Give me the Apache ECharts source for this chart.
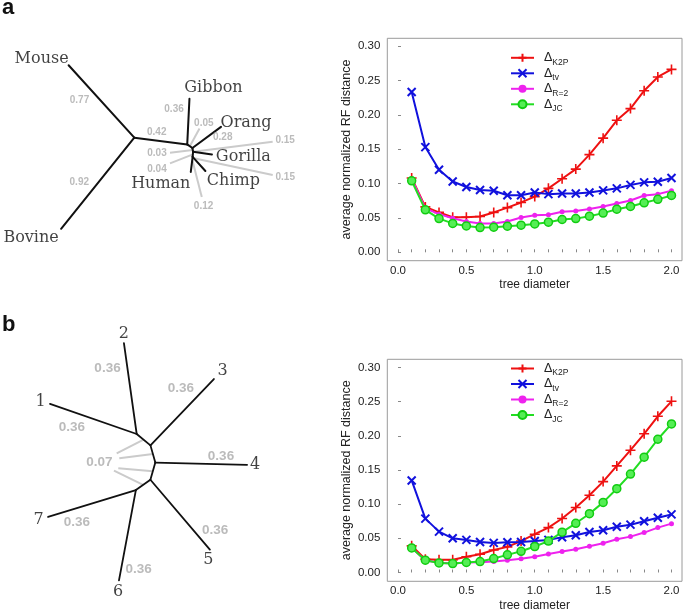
<!DOCTYPE html>
<html><head><meta charset="utf-8">
<script src="https://cdn.jsdelivr.net/npm/echarts@6/dist/echarts.min.js"></script>
<style>html,body{margin:0;padding:0;background:#fff}#c{width:685px;height:611px}</style>
</head><body><div id="c"></div>
<script>
// ================= DATA =================
const diameters = [0.1,0.2,0.3,0.4,0.5,0.6,0.7,0.8,0.9,1.0,1.1,1.2,1.3,1.4,1.5,1.6,1.7,1.8,1.9,2.0];
const xTickLabels = [0, 0.5, 1.0, 1.5, 2.0];
const xTickMarks = [0,0.1,0.2,0.3,0.4,0.5,0.6,0.7,0.8,0.9,1.0,1.1,1.2,1.3,1.4,1.5,1.6,1.7,1.8,1.9,2.0];
const yTickLabels = [0, 0.05, 0.10, 0.15, 0.20, 0.25, 0.30];
const methodSubs = ['K2P', 'tv', 'R=2', 'JC'];

// panel a
const a_K2P = [0.108,0.066,0.058,0.051,0.051,0.052,0.058,0.065,0.0725,0.081,0.093,0.107,0.121,0.142,0.166,0.192,0.209,0.235,0.255,0.266];
const a_tv  = [0.233,0.153,0.120,0.103,0.095,0.0905,0.0895,0.083,0.083,0.087,0.0846,0.0856,0.0856,0.087,0.090,0.093,0.098,0.1017,0.1026,0.108];
const a_R2  = [0.107,0.064,0.0555,0.0496,0.0447,0.042,0.042,0.0447,0.0506,0.054,0.0545,0.0589,0.060,0.063,0.0667,0.071,0.0754,0.0827,0.0846,0.0895];
const a_JC  = [0.104,0.0618,0.049,0.042,0.0384,0.036,0.0365,0.038,0.0394,0.0413,0.0438,0.0477,0.049,0.0525,0.057,0.0627,0.0667,0.072,0.077,0.0827];
// panel b
const b_K2P = [0.039,0.0195,0.0185,0.0185,0.023,0.0267,0.033,0.0375,0.046,0.056,0.0657,0.079,0.095,0.113,0.133,0.156,0.179,0.203,0.2286,0.2505];
const b_tv  = [0.1347,0.0788,0.0598,0.050,0.0477,0.0447,0.0433,0.0443,0.0447,0.046,0.0477,0.0516,0.0545,0.0593,0.0618,0.067,0.070,0.075,0.080,0.085];
const b_R2  = [0.036,0.0175,0.0141,0.0131,0.0146,0.015,0.016,0.018,0.020,0.023,0.0272,0.0306,0.034,0.0384,0.0428,0.0486,0.0525,0.0584,0.0657,0.0715];
const b_JC  = [0.036,0.018,0.014,0.013,0.0146,0.016,0.0204,0.0258,0.031,0.038,0.046,0.059,0.072,0.086,0.1026,0.1226,0.144,0.1688,0.195,0.2174];

// tree a: [parent, child, branch length]
const treeA_edges = [
  ['A','Mouse',0.77],['A','Bovine',0.92],['A','B',0.42],['B','Gibbon',0.36],
  ['B','C',0.05],['C','Orang',0.28],['C','D',0.03],['D','Gorilla',0.15],
  ['D','E',0.04],['E','Chimp',0.15],['E','Human',0.12]
];
const treeA_tips = ['Mouse','Bovine','Gibbon','Orang','Gorilla','Chimp','Human'];
// tree b
const treeB_edges = [
  ['N1','N2',0.07],['N2','N3',0.07],['N3','N4',0.07],['N4','N5',0.07],
  ['N1','1',0.36],['N1','2',0.36],['N2','3',0.36],['N3','4',0.36],
  ['N4','5',0.36],['N5','6',0.36],['N5','7',0.36]
];
const treeB_tips = ['1','2','3','4','5','6','7'];

// ================= LAYOUT (drawing only) =================
const layoutA = {
  root: 'A', scale: 127, originPx: [134.3, 137.7], box: [0, 0, 330, 300],
  angles: [132.2, 231.2, -7.2, 87.2, -35, 36.5, -80, -8, -95, -48, -97],
  tipOffsets: {Mouse:[-27,-6], Bovine:[-30,9.5], Gibbon:[24,-10.5], Orang:[25,-4.5], Gorilla:[31.4,2.3], Chimp:[28,10], Human:[-30,12]},
  // [edge, t, dx, dy, leaders:[[edge,t,lx,ly]]]
  lengthLabels: [
    [0,0.5,-22,-1,[]],[1,0.5,-18.4,-0.5,[]],[2,0.5,-4,-9,[]],[3,0.5,-14.3,-12,[]],
    [4,0.5,14,-22.9,[[4,0.5,-4.3,5.2]]],[5,0.5,16,0,[]],
    [6,0.5,-35.75,3.8,[[6,0.5,13,-1]]],[7,0,92.1,-11.3,[[7,0,-12.5,1.2]]],
    [8,0.5,-35.85,15.2,[[8,0.5,13,-6.2]]],[9,0.1,91.3,19,[[9,0.1,-12.5,-2.2]]],
    [10,0.2,11.3,46,[[10,0.2,-1.8,-8.8]]]
  ],
  lenFont: 10, tipFont: 16, lineW: 2
};
const layoutB = {
  root: 'N1', scale: 255, originPx: [136.7, 434], box: [0, 290, 330, 321],
  angles: [-39.6, -74.2, -106, -144.5, 160.8, 98, 46.3, -1.4, -49.6, -100.6, 197],
  tipOffsets: {'1':[-9.3,-2.2], '2':[-0.2,-9.3], '3':[8.6,-8.2], '4':[7.9,0.4], '5':[-1.6,10.3], '6':[-1,11.8], '7':[-9.6,3]},
  lengthLabels: [
    [5,0.5,-22.8,-20.6,[]],[6,0.5,-1.4,-23.5,[]],[4,0.5,-21.4,8.7,[]],[7,0.5,19.8,-7,[]],
    [8,0.5,35,15.2,[]],[10,0.5,-15.2,18.7,[]],[9,0.5,11.2,34,[]],
    [0,0.5,-44.3,23,[[0,0.5,17.4,-9.4],[1,0.5,20,-4.4],[2,0.5,19,5.6],[3,0.5,14.7,8]]]
  ],
  lenFont: 13.5, tipFont: 16, lineW: 1.8
};

function buildTree(edges, tips, L, idx) {
  const pos = {}; pos[L.root] = [0, 0];
  const segs = [];
  edges.forEach((e, i) => {
    const a = L.angles[i] * Math.PI / 180;
    const p = pos[e[0]];
    const q = [p[0] + e[2] * Math.cos(a), p[1] + e[2] * Math.sin(a)];
    pos[e[1]] = q;
    segs.push([p, q]);
  });
  const s = L.scale;
  const pt = (ei, t) => { const g = segs[ei]; return [g[0][0] + (g[1][0]-g[0][0])*t, g[0][1] + (g[1][1]-g[0][1])*t]; };
  const off = (p, d) => [p[0] + d[0]/s, p[1] - d[1]/s];
  const tipLabels = tips.map(n => ({value: off(pos[n], L.tipOffsets[n]), name: n}));
  const lenLabels = [], leaders = [];
  L.lengthLabels.forEach(l => {
    const c = off(pt(l[0], l[1]), [l[2], l[3]]);
    lenLabels.push({value: c, name: edges[l[0]][2].toFixed(2)});
    l[4].forEach(ld => leaders.push({coords: [pt(ld[0], ld[1]), off(c, [ld[2], ld[3]])]}));
  });
  const [bx, by, bw, bh] = L.box, [ox, oy] = L.originPx;
  const grid = {left: bx, top: by, width: bw, height: bh, show: false, outerBoundsMode: 'none'};
  const xAxis = {type:'value', gridIndex: idx, show:false, min: (bx - ox)/s, max: (bx + bw - ox)/s};
  const yAxis = {type:'value', gridIndex: idx, show:false, min: (oy - by - bh)/s, max: (oy - by)/s};
  const series = [
    {type:'lines', coordinateSystem:'cartesian2d', xAxisIndex: idx, yAxisIndex: idx, silent:true, z: 1,
     lineStyle:{color:'#cbcbcb', width:2, opacity:1}, data: leaders},
    {type:'lines', coordinateSystem:'cartesian2d', xAxisIndex: idx, yAxisIndex: idx, silent:true, z: 2,
     lineStyle:{color:'#111', width:L.lineW, opacity:1, cap:'round'}, data: segs.map(g => ({coords: g}))},
    {type:'scatter', xAxisIndex: idx, yAxisIndex: idx, symbolSize: 1, itemStyle:{color:'rgba(0,0,0,0)'}, silent:true, z: 3,
     label:{show:true, position:'inside', formatter:'{b}', color:'#aaaaaa', fontWeight:'bold', fontSize: L.lenFont, fontFamily:'Liberation Sans'},
     data: lenLabels},
    {type:'scatter', xAxisIndex: idx, yAxisIndex: idx, symbolSize: 1, itemStyle:{color:'rgba(0,0,0,0)'}, silent:true, z: 4,
     label:{show:true, position:'inside', formatter:'{b}', color:'#111', fontSize: L.tipFont, fontFamily:'DejaVu Serif'},
     data: tipLabels}
  ];
  return {grid, xAxis, yAxis, series};
}

// ================= CHARTS =================
const font = 'Liberation Sans';
const colors = ['#ee1111', '#1111dd', '#ee22ee', '#22dd22'];
const symbols = ['path://M0,5L10,5M5,0L5,10', 'path://M0,0L10,10M10,0L0,10', 'circle', 'circle'];
const symSizes = [10, 8, 5, 8];
function seriesStyle(i) {
  const it = {color: colors[i]};
  if (i === 0) Object.assign(it, {borderColor: colors[i], borderWidth: 1.6});
  if (i === 1) Object.assign(it, {borderColor: colors[i], borderWidth: 2});
  if (i === 3) Object.assign(it, {color: '#55ee55', borderColor: '#11cc11', borderWidth: 1.5});
  return it;
}
function makeSeries(prefix, arrays, gi) {
  return arrays.map((arr, i) => ({
    name: prefix + ':' + methodSubs[i], type: 'line', xAxisIndex: gi, yAxisIndex: gi,
    data: diameters.map((d, k) => [d, arr[k]]),
    symbol: symbols[i], symbolSize: symSizes[i], showSymbol: true, showAllSymbol: true,
    lineStyle: {color: colors[i], width: 2}, itemStyle: seriesStyle(i), z: 5 + i
  }));
}
function chartGrid(top, height) {
  return {left: 387.3, top: top, width: 294.7, height: height, show: true, borderColor: '#9a9a9a', borderWidth: 1, backgroundColor: 'transparent', outerBoundsMode: 'none'};
}
function chartX(gi, min, max) {
  return {type:'value', gridIndex: gi, min, max,
    axisLine:{show:false}, splitLine:{show:false},
    axisTick:{show:true, inside:true, length:3, customValues: xTickMarks, lineStyle:{color:'#888'}},
    axisLabel:{customValues: xTickLabels, formatter: v => v.toFixed(1), margin: 4, fontSize: 11.5, color:'#222', fontFamily: font},
    name:'tree diameter', nameLocation:'middle', nameGap: 18, nameTextStyle:{fontSize: 12, color:'#222', fontFamily: font}};
}
function chartY(gi, min, max) {
  return {type:'value', gridIndex: gi, min, max,
    axisLine:{show:false}, splitLine:{show:false},
    axisTick:{show:true, inside:true, length:3, customValues: yTickLabels, lineStyle:{color:'#888'}},
    axisLabel:{customValues: yTickLabels, formatter: v => v.toFixed(2), margin: 7, fontSize: 11.5, color:'#222', fontFamily: font},
    name:'average normalized RF distance', nameLocation:'middle', nameGap: 34, nameTextStyle:{fontSize: 12.5, color:'#222', fontFamily: font}};
}
function makeLegend(prefix, top) {
  return {orient:'vertical', left: 505, top: top, itemWidth: 23, itemHeight: 10, itemGap: 0, selectedMode: false,
    data: methodSubs.map(s => prefix + ':' + s),
    formatter: n => '{d|Δ}{s|' + n.split(':')[1] + '}',
    textStyle: {rich: {
      d: {fontSize: 12.5, color:'#222', fontFamily: font, lineHeight: 14, padding: [0,0,0,5]},
      s: {fontSize: 8.5, color:'#222', fontFamily: font, lineHeight: 9, verticalAlign: 'bottom', padding: [0,0,-2,0]}
    }}};
}

const tA = buildTree(treeA_edges, treeA_tips, layoutA, 2);
const tB = buildTree(treeB_edges, treeB_tips, layoutB, 3);

const option = {
  animation: false,
  backgroundColor: '#fff',
  grid: [chartGrid(38.3, 222.4), chartGrid(359.3, 222), tA.grid, tB.grid],
  xAxis: [chartX(0, -0.0782, 2.0768), chartX(1, -0.0782, 2.0768), tA.xAxis, tB.xAxis],
  yAxis: [chartY(0, -0.0122, 0.3112), chartY(1, -0.0129, 0.312), tA.yAxis, tB.yAxis],
  legend: [makeLegend('a', 46.3), makeLegend('b', 357)],
  series: [].concat(
    makeSeries('a', [a_K2P, a_tv, a_R2, a_JC], 0),
    makeSeries('b', [b_K2P, b_tv, b_R2, b_JC], 1),
    tA.series, tB.series
  ),
  graphic: [
    {type:'text', left: 2, top: -3, style:{text:'a', font:'bold 22px "Liberation Sans"', fill:'#111'}},
    {type:'text', left: 2, top: 314, style:{text:'b', font:'bold 22px "Liberation Sans"', fill:'#111'}}
  ]
};
const chart = echarts.init(document.getElementById('c'), null, {renderer: 'canvas'});
chart.setOption(option);
</script></body></html>
